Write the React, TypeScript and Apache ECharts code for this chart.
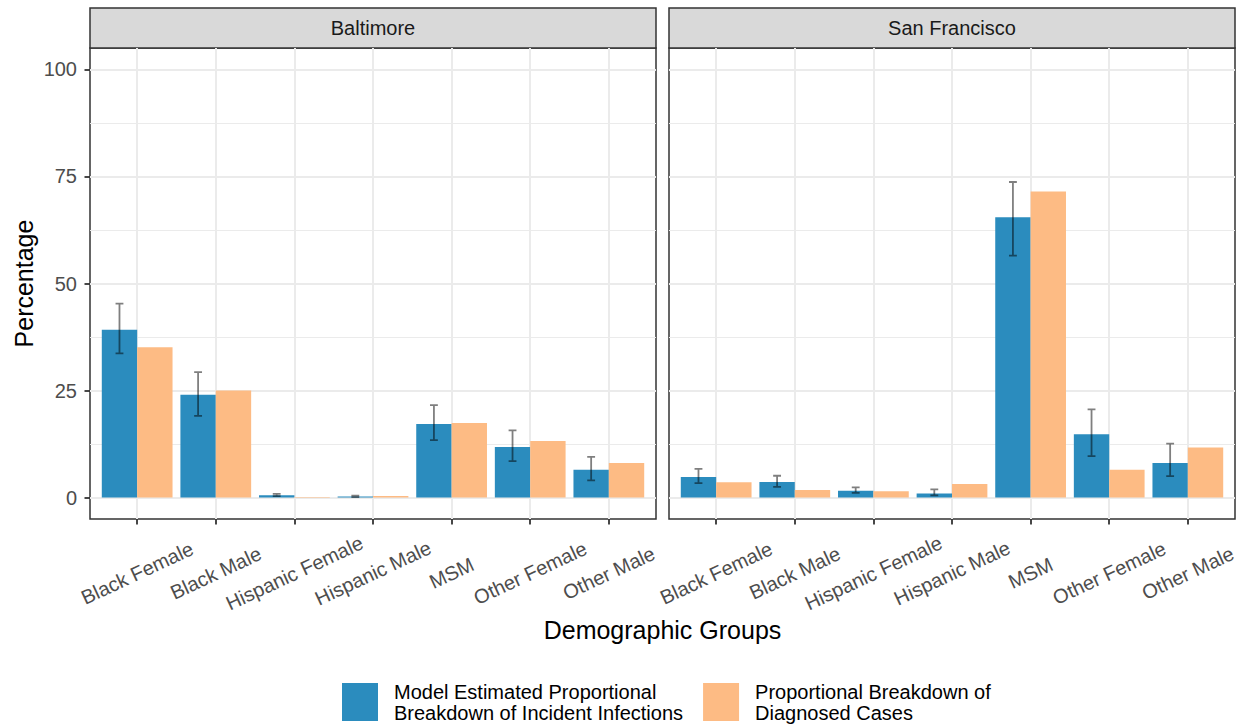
import React, { useEffect, useRef } from 'react';
import * as echarts from 'echarts';

// Demographic groups shown on both facets
const groups = [
  'Black Female',
  'Black Male',
  'Hispanic Female',
  'Hispanic Male',
  'MSM',
  'Other Female',
  'Other Male',
];
const cities = ['Baltimore', 'San Francisco'];

const modelLabel = 'Model Estimated Proportional\nBreakdown of Incident Infections';
const diagLabel = 'Proportional Breakdown of\nDiagnosed Cases';

// Baltimore (%)
const baltimoreModel = [39.2, 24.0, 0.55, 0.23, 17.2, 11.8, 6.5];
const baltimoreLow = [33.7, 19.1, 0.35, 0.1, 13.4, 8.5, 4.0];
const baltimoreHigh = [45.3, 29.3, 0.85, 0.45, 21.6, 15.7, 9.5];
const baltimoreDiag = [35.1, 25.0, 0.15, 0.35, 17.4, 13.2, 8.1];

// San Francisco (%)
const sfModel = [4.8, 3.65, 1.6, 0.95, 65.5, 14.8, 8.05];
const sfLow = [3.4, 2.5, 1.1, 0.5, 56.5, 9.7, 5.0];
const sfHigh = [6.7, 5.1, 2.4, 1.9, 73.7, 20.6, 12.6];
const sfDiag = [3.6, 1.8, 1.5, 3.2, 71.5, 6.5, 11.7];

const yMajorTicks = [0, 25, 50, 75, 100];
const yMinorTicks = [12.5, 37.5, 62.5, 87.5];
const xTicks = groups.map((_, i) => i);

const BLUE = '#2B8CBE';
const PEACH = '#FDBB84';
const GRID = '#EBEBEB';
const DARK = '#333333';
const FONT = "'Liberation Sans', Arial, Helvetica, sans-serif";

const PANEL_TOP = 48;
const PANEL_H = 471;
const PANEL_W = 566;
const STRIP_TOP = 8;

const panels = [
  { city: cities[0], model: baltimoreModel, low: baltimoreLow, high: baltimoreHigh, diag: baltimoreDiag, left: 90 },
  { city: cities[1], model: sfModel, low: sfLow, high: sfHigh, diag: sfDiag, left: 669 },
];

const BAR_W = 0.45;

function barRenderer(offset: number, color: string) {
  return (_params: any, api: any) => {
    const x = api.value(0);
    const v = api.value(1);
    const a = api.coord([x + offset, 0]);
    const b = api.coord([x + offset + BAR_W, v]);
    return {
      type: 'rect',
      shape: { x: a[0], y: Math.min(a[1], b[1]), width: b[0] - a[0], height: Math.abs(a[1] - b[1]) },
      style: { fill: color },
    };
  };
}

function errorRenderer(_params: any, api: any) {
  const x = api.value(0) - BAR_W / 2;
  const lo = api.coord([x, api.value(1)]);
  const hi = api.coord([x, api.value(2)]);
  const l = api.coord([x - 0.05, 0])[0];
  const r = api.coord([x + 0.05, 0])[0];
  return {
    type: 'polyline',
    shape: {
      points: [
        [l, hi[1]],
        [r, hi[1]],
        [lo[0], hi[1]],
        [lo[0], lo[1]],
        [l, lo[1]],
        [r, lo[1]],
      ],
    },
    style: { stroke: 'rgba(0,0,0,0.5)', lineWidth: 1.8, fill: 'none' },
  };
}

export default function App() {
  const ref = useRef<HTMLDivElement>(null);

  useEffect(() => {
    if (!ref.current) return;
    const chart = echarts.init(ref.current, undefined, { renderer: 'svg' });

    const grids = panels.map((p) => ({
      left: p.left,
      top: PANEL_TOP,
      width: PANEL_W,
      height: PANEL_H,
      show: true,
      backgroundColor: '#FFFFFF',
      borderColor: DARK,
      borderWidth: 1.5,
    }));

    const xAxes = panels.map((_, i) => ({
      type: 'value',
      gridIndex: i,
      position: 'bottom',
      min: -0.6,
      max: 6.6,
      axisLine: { show: false, onZero: false },
      axisTick: { show: true, length: 5.5, customValues: xTicks, lineStyle: { color: DARK, width: 1.8 } },
      splitLine: { show: true, lineStyle: { color: GRID, width: 2 } },
      axisLabel: {
        customValues: xTicks,
        formatter: (v: number) => groups[Math.round(v)],
        rotate: 25,
        align: 'center',
        verticalAlign: 'middle',
        margin: 54,
        fontSize: 20,
        color: '#4D4D4D',
        fontFamily: FONT,
      },
    }));

    const yMajor = panels.map((_, i) => ({
      type: 'value',
      gridIndex: i,
      position: 'left',
      min: -5,
      max: 105,
      axisLine: { show: false, onZero: false },
      axisTick: {
        show: i === 0,
        length: 5.5,
        customValues: yMajorTicks,
        lineStyle: { color: DARK, width: 1.8 },
      },
      splitLine: { show: true, lineStyle: { color: GRID, width: 2 } },
      axisLabel: {
        show: i === 0,
        customValues: yMajorTicks,
        margin: 13,
        fontSize: 20,
        color: '#4D4D4D',
        fontFamily: FONT,
      },
    }));

    const yMinor = panels.map((_, i) => ({
      type: 'value',
      gridIndex: i,
      position: 'left',
      min: -5,
      max: 105,
      axisLine: { show: false, onZero: false },
      axisTick: { show: false, customValues: yMinorTicks },
      axisLabel: { show: false, customValues: yMinorTicks },
      splitLine: { show: true, lineStyle: { color: GRID, width: 1 } },
    }));

    const series: any[] = [];
    panels.forEach((p, i) => {
      series.push({
        type: 'custom',
        name: modelLabel,
        xAxisIndex: i,
        yAxisIndex: i,
        itemStyle: { color: BLUE },
        renderItem: barRenderer(-BAR_W, BLUE),
        encode: { x: 0, y: 1 },
        data: p.model.map((v, k) => [k, v]),
      });
      series.push({
        type: 'custom',
        name: diagLabel,
        xAxisIndex: i,
        yAxisIndex: i,
        itemStyle: { color: PEACH },
        renderItem: barRenderer(0, PEACH),
        encode: { x: 0, y: 1 },
        data: p.diag.map((v, k) => [k, v]),
      });
      series.push({
        type: 'custom',
        name: 'ci-' + p.city,
        xAxisIndex: i,
        yAxisIndex: i,
        renderItem: errorRenderer,
        encode: { x: 0, y: [1, 2] },
        data: p.low.map((lo, k) => [k, lo, p.high[k]]),
        z: 5,
      });
    });

    const graphics: any[] = [];
    panels.forEach((p) => {
      graphics.push({
        type: 'rect',
        shape: { x: p.left, y: STRIP_TOP, width: PANEL_W, height: PANEL_TOP - STRIP_TOP },
        style: { fill: '#D9D9D9', stroke: DARK, lineWidth: 1.5 },
      });
      graphics.push({
        type: 'text',
        x: p.left + PANEL_W / 2,
        y: (STRIP_TOP + PANEL_TOP) / 2,
        style: {
          text: p.city,
          fontSize: 20,
          fontFamily: FONT,
          fill: '#1A1A1A',
          textAlign: 'center',
          textVerticalAlign: 'middle',
        },
      });
    });
    graphics.push({
      type: 'text',
      x: 24,
      y: PANEL_TOP + PANEL_H / 2,
      rotation: Math.PI / 2,
      style: {
        text: 'Percentage',
        fontSize: 25,
        fontFamily: FONT,
        fill: '#000000',
        textAlign: 'center',
        textVerticalAlign: 'middle',
      },
    });
    graphics.push({
      type: 'text',
      x: (panels[0].left + panels[1].left + PANEL_W) / 2,
      y: 630,
      style: {
        text: 'Demographic Groups',
        fontSize: 25,
        fontFamily: FONT,
        fill: '#000000',
        textAlign: 'center',
        textVerticalAlign: 'middle',
      },
    });

    chart.setOption({
      animation: false,
      backgroundColor: '#FFFFFF',
      textStyle: { fontFamily: FONT },
      grid: grids,
      xAxis: xAxes,
      yAxis: [...yMajor, ...yMinor],
      legend: {
        data: [modelLabel, diagLabel],
        left: 342,
        top: 681,
        padding: 0,
        icon: 'rect',
        itemWidth: 36,
        itemHeight: 38,
        itemGap: 20,
        selectedMode: false,
        textStyle: {
          fontSize: 20,
          lineHeight: 21,
          color: '#000000',
          fontFamily: FONT,
          padding: [0, 0, 0, 11],
        },
      },
      series,
      graphic: graphics,
    });

    return () => chart.dispose();
  }, []);

  return (
    <div
      ref={ref}
      style={{ position: 'absolute', left: 0, top: 0, width: 1244, height: 728 }}
    />
  );
}
